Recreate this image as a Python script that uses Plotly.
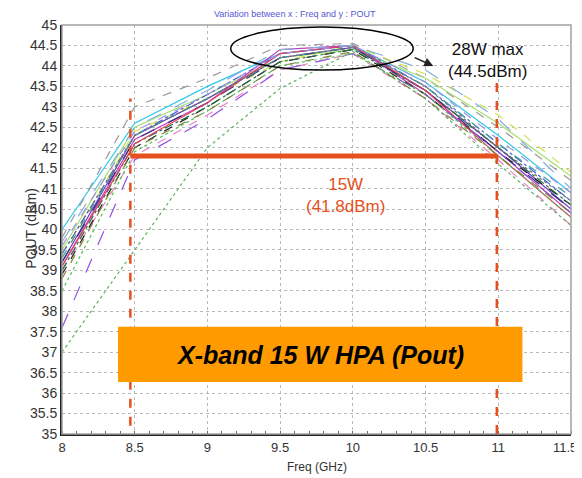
import plotly.graph_objects as go

freq = [8.0, 8.5, 9.0, 9.5, 10.0, 10.5, 11.0, 11.5]
x_tick_vals = [8, 8.5, 9, 9.5, 10, 10.5, 11, 11.5]
x_tick_labels = ["8", "8.5", "9", "9.5", "10", "10.5", "11", "11.5"]

pout_cyan = [40.0, 42.6, 43.5, 44.3, 44.5, 43.6, 42.3, 40.9]
pout_gray_dash = [39.8, 43.0, 43.7, 44.5, 44.55, 43.7, 42.5, 41.2]
pout_lightgreen = [39.5, 42.5, 43.3, 44.2, 44.4, 43.7, 42.6, 41.3]
pout_yellowgreen = [39.3, 42.4, 43.2, 44.1, 44.5, 43.8, 42.8, 41.4]
pout_purple = [39.2, 42.3, 43.2, 44.2, 44.45, 43.4, 42.0, 40.5]
pout_blue = [39.4, 42.3, 43.3, 44.3, 44.5, 43.5, 42.1, 40.7]
pout_magenta = [39.1, 42.2, 43.1, 44.4, 44.5, 43.3, 41.9, 40.4]
pout_pink = [39.0, 41.8, 42.8, 43.9, 44.3, 43.2, 41.7, 40.1]
pout_black = [38.9, 42.0, 43.0, 44.1, 44.4, 43.3, 41.9, 40.6]
pout_darkgreen = [39.0, 42.1, 43.0, 44.1, 44.4, 43.4, 42.0, 40.6]
pout_navy = [39.2, 42.2, 43.1, 44.2, 44.45, 43.4, 41.9, 40.5]
pout_teal = [39.3, 42.3, 43.2, 44.2, 44.45, 43.5, 42.1, 40.8]
pout_red = [39.1, 42.1, 43.1, 44.3, 44.5, 43.4, 41.8, 40.3]
pout_lavender = [39.6, 42.4, 43.3, 44.3, 44.5, 43.6, 42.2, 40.9]
pout_violet = [37.6, 41.7, 42.7, 43.9, 44.3, 43.3, 41.9, 40.4]
pout_greendot = [37.0, 39.5, 42.0, 43.45, 44.35, 43.2, 41.6, 40.1]
pout_green = [38.5, 41.9, 42.9, 44.0, 44.3, 43.3, 41.8, 40.3]
pout_olive = [38.8, 42.0, 42.9, 44.0, 44.35, 43.2, 41.8, 40.4]
pout_skyblue = [39.7, 42.5, 43.4, 44.4, 44.5, 43.9, 42.7, 41.0]
pout_graydot = [39.4, 42.3, 43.2, 44.2, 44.45, 43.5, 42.0, 40.7]

series = [
    (pout_cyan, "#33c8e8", "solid"),
    (pout_gray_dash, "#999999", "dash"),
    (pout_lightgreen, "#a8e070", "solid"),
    (pout_yellowgreen, "#d4e050", "dash"),
    (pout_purple, "#7040c0", "solid"),
    (pout_blue, "#4060e0", "dashdot"),
    (pout_magenta, "#c040c0", "solid"),
    (pout_pink, "#f080c8", "dash"),
    (pout_black, "#202020", "dash"),
    (pout_darkgreen, "#207040", "dashdot"),
    (pout_navy, "#303080", "longdash"),
    (pout_teal, "#40a0a0", "dash"),
    (pout_red, "#e04060", "solid"),
    (pout_lavender, "#a090e0", "dash"),
    (pout_violet, "#9050e0", "longdash"),
    (pout_greendot, "#60b060", "dot"),
    (pout_green, "#50c050", "dot"),
    (pout_olive, "#808040", "dash"),
    (pout_skyblue, "#80b0e0", "longdash"),
    (pout_graydot, "#707070", "dot"),
]

fig = go.Figure()
for vals, col, dash in series:
    fig.add_trace(go.Scatter(x=freq, y=vals, mode="lines",
                             line=dict(color=col, width=1.2, dash=dash),
                             showlegend=False, hoverinfo="skip"))

red = "#e6501e"
# frame
fig.add_shape(type="rect", xref="paper", yref="paper", x0=0, x1=1, y0=0, y1=1,
              line=dict(color="#a0a0a0", width=1.5), layer="above")
# 15 W markers
fig.add_shape(type="line", x0=8.47, x1=8.47, y0=35.2, y1=43.2,
              line=dict(color=red, width=2.5, dash="dash"))
fig.add_shape(type="line", x0=10.99, x1=10.99, y0=35.0, y1=43.65,
              line=dict(color=red, width=2.5, dash="dash"))
fig.add_shape(type="line", x0=8.47, x1=10.99, y0=41.8, y1=41.8,
              line=dict(color=red, width=5))
# ellipse
fig.add_shape(type="circle", x0=9.16, x1=10.415, y0=43.9, y1=44.95,
              line=dict(color="black", width=1.5))
# orange box
fig.add_shape(type="rect", x0=8.385, x1=11.166, y0=36.27, y1=37.62,
              fillcolor="#ff9a00", line=dict(width=0), layer="above")

fig.add_annotation(x=10.553, y=44.0, ax=10.415, ay=44.22, xref="x", yref="y",
                   axref="x", ayref="y", showarrow=True, arrowhead=2,
                   arrowsize=1.2, arrowwidth=1.5, arrowcolor="#222222", text="")
fig.add_annotation(x=10.925, y=44.12, text="28W max<br>(44.5dBm)", showarrow=False,
                   font=dict(family="Liberation Sans, Arial", size=17, color="#111111"))
fig.add_annotation(x=9.95, y=40.82, text="15W<br>(41.8dBm)", showarrow=False,
                   font=dict(family="Liberation Sans, Arial", size=17, color=red))
fig.add_annotation(x=9.776, y=36.93, text="<b><i>X-band 15 W HPA (Pout)</i></b>",
                   showarrow=False,
                   font=dict(family="Liberation Sans, Arial", size=25, color="#000000"))
# title and axis titles
fig.add_annotation(x=0.458, y=1.026, xref="paper", yref="paper",
                   text="Variation between x : Freq and y : POUT",
                   showarrow=False, xanchor="center", yanchor="middle",
                   font=dict(family="Liberation Sans, Arial", size=9, color="#5858d0"))
fig.add_annotation(x=0.5, y=-0.081, xref="paper", yref="paper", text="Freq (GHz)",
                   showarrow=False, xanchor="center", yanchor="middle",
                   font=dict(family="Liberation Sans, Arial", size=12, color="#333333"))
fig.add_annotation(x=-0.061, y=0.504, xref="paper", yref="paper", text="POUT (dBm)",
                   showarrow=False, textangle=-90, xanchor="center", yanchor="middle",
                   font=dict(family="Liberation Sans, Arial", size=14, color="#333333"))
# last x tick label, right-aligned so it stays inside the window
fig.add_annotation(x=x_tick_vals[-1], y=0, xref="x", yref="paper", yanchor="top",
                   xanchor="right", xshift=8, yshift=-4, showarrow=False,
                   text=x_tick_labels[-1],
                   font=dict(family="Liberation Sans, Arial", size=13, color="#333333"))

# page body adds an 8 px offset, so the figure is sized to land on the same pixels
fig.update_layout(
    width=582, height=470,
    margin=dict(l=54, r=19, t=17, b=44),
    paper_bgcolor="white", plot_bgcolor="white",
    font=dict(family="Liberation Sans, Arial", color="#333333"),
)
fig.update_xaxes(range=[8, 11.5], tickmode="array", tickvals=x_tick_vals[:-1],
                 ticktext=x_tick_labels[:-1], showgrid=True, automargin=False,
                 gridcolor="#b8b8b8", griddash="dot", gridwidth=1,
                 showline=True, linecolor="#222222", linewidth=2,
                 ticks="", tickfont=dict(size=13, color="#333333"),
                 minor=dict(ticks="inside", ticklen=3, dtick=0.1, tickcolor="#666666"),
                 zeroline=False)
fig.update_yaxes(range=[35, 45], dtick=0.5, tick0=35, showgrid=True, automargin=False,
                 gridcolor="#b8b8b8", griddash="dot", gridwidth=1,
                 showline=True, linecolor="#222222", linewidth=2,
                 ticks="", tickfont=dict(size=14, color="#333333"),
                 zeroline=False)

fig.write_html("out.html")
